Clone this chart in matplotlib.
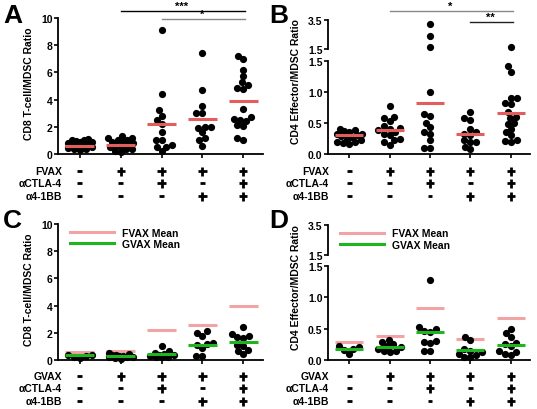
import numpy as np
import matplotlib.pyplot as plt
from matplotlib import transforms

plt.rcParams['font.family'] = ['Liberation Sans', 'DejaVu Sans']
plt.rcParams['font.weight'] = 'bold'

W, H = 537, 410

# treatment rows under each panel
vax_row = ['-', '+', '+', '+', '+']
ctla4_row = ['-', '-', '+', '-', '+']
bb_row = ['-', '-', '-', '+', '+']

# A: CD8 T-cell / MDSC ratio, FVAX
a_vals = [
    [1.1, 1.05, 1.0, 0.95, 0.9, 0.85, 0.8, 0.75, 0.7, 0.6, 0.55, 0.5, 0.45, 0.4, 0.35, 0.3],
    [1.3, 1.2, 1.15, 1.05, 1.0, 0.9, 0.85, 0.8, 0.7, 0.6, 0.55, 0.5, 0.4, 0.35, 0.25, 0.15],
    [9.1, 4.4, 3.2, 2.8, 2.5, 2.2, 1.65, 1.05, 1.05, 0.65, 0.55, 0.5, 0.2],
    [7.4, 4.7, 3.5, 3.0, 3.0, 2.0, 2.0, 1.9, 1.6, 1.15, 1.0, 0.6],
    [7.2, 7.0, 6.2, 5.75, 5.3, 5.1, 4.85, 4.8, 3.3, 2.75, 2.6, 2.5, 2.45, 2.1, 2.05, 1.15, 1.0],
]
a_means = [0.62, 0.68, 2.2, 2.55, 3.9]

# B: CD4 effector / MDSC ratio, FVAX
b_vals = [
    [0.4, 0.39, 0.37, 0.36, 0.33, 0.32, 0.3, 0.29, 0.27, 0.25, 0.22, 0.2, 0.19, 0.17, 0.16],
    [0.77, 0.6, 0.58, 0.53, 0.45, 0.42, 0.4, 0.38, 0.35, 0.33, 0.3, 0.25, 0.22, 0.2, 0.15],
    [3.2, 2.4, 1.62, 1.0, 0.65, 0.62, 0.5, 0.43, 0.35, 0.33, 0.22, 0.1, 0.1],
    [0.67, 0.58, 0.55, 0.4, 0.35, 0.33, 0.3, 0.22, 0.2, 0.2, 0.12, 0.08],
    [1.63, 1.42, 1.33, 0.9, 0.9, 0.82, 0.8, 0.67, 0.6, 0.58, 0.5, 0.48, 0.4, 0.36, 0.3, 0.22, 0.21, 0.2],
]
b_means = [0.3, 0.38, 0.83, 0.32, 0.66]

# C: CD8 T-cell / MDSC ratio, GVAX
c_vals = [
    [0.4, 0.35, 0.3, 0.2, 0.15],
    [0.5, 0.45, 0.4, 0.35, 0.3, 0.3, 0.25, 0.2, 0.2, 0.15, 0.1],
    [1.05, 0.65, 0.5, 0.45, 0.4, 0.35, 0.3, 0.25, 0.2, 0.2],
    [2.1, 2.0, 1.8, 1.25, 1.15, 1.1, 0.9, 0.3, 0.3],
    [2.4, 1.9, 1.8, 1.7, 1.6, 1.1, 1.05, 0.7, 0.65, 0.45],
]
c_means = [0.35, 0.3, 0.45, 1.1, 1.35]
c_fvax_means = [0.6, 0.65, 2.2, 2.55, 3.95]

# D: CD4 effector / MDSC ratio, GVAX
d_vals = [
    [0.22, 0.21, 0.18, 0.16, 0.1],
    [0.32, 0.28, 0.25, 0.22, 0.2, 0.18, 0.15, 0.14, 0.13],
    [1.27, 0.52, 0.5, 0.47, 0.45, 0.3, 0.29, 0.27, 0.15, 0.15],
    [0.37, 0.32, 0.18, 0.15, 0.12, 0.1, 0.08, 0.05, 0.05],
    [0.5, 0.43, 0.37, 0.27, 0.25, 0.23, 0.15, 0.12, 0.1, 0.08],
]
d_means = [0.18, 0.2, 0.44, 0.16, 0.24]
d_fvax_means = [0.29, 0.38, 0.83, 0.33, 0.67]

RED = '#e35d5d'
PINK = '#f2a3a3'
GREEN = '#1fb51f'
XLIM = (-0.53, 4.48)

fig = plt.figure(figsize=(W / 100, H / 100), dpi=100)


def px_axes(left, top, right, bottom):
    return fig.add_axes([left / W, 1 - bottom / H, (right - left) / W, (bottom - top) / H])


def style(ax, ylim, ticks, fmt, bottom=True):
    ax.set_xlim(*XLIM)
    ax.set_ylim(*ylim)
    ax.set_yticks(ticks)
    ax.set_yticklabels([fmt % t for t in ticks])
    for s in ['top', 'right']:
        ax.spines[s].set_visible(False)
    ax.spines['left'].set_linewidth(1.3)
    ax.tick_params(axis='y', length=3, width=1.2, labelsize=7.5, pad=1)
    if bottom:
        ax.spines['bottom'].set_linewidth(1.3)
        ax.set_xticks(range(5))
        ax.set_xticklabels([])
        ax.tick_params(axis='x', length=3, width=1.2)
    else:
        ax.spines['bottom'].set_visible(False)
        ax.set_xticks([])
    ax.patch.set_alpha(0)


def swarm_x(ax, x0, vals, d=6.0, cap=13):
    # simple beeswarm in pixel space, width capped so dots overlap like the original
    vals = np.asarray(vals, dtype=float)
    pts = ax.transData.transform(np.column_stack([np.full(len(vals), x0), vals]))
    order = np.argsort(pts[:, 1])
    cands = sorted(np.arange(-2 * cap, 2 * cap + 1) * 0.5, key=lambda v: (abs(v), v))
    placed = []
    xs = np.zeros(len(vals))
    for i in order:
        y = pts[i, 1]
        best, best_gap = 0.0, -1
        for dx in cands:
            gap = min([np.hypot(dx - px, y - py) for px, py in placed] or [99])
            if gap >= d:
                best = dx
                break
            if gap > best_gap + 0.5:
                best, best_gap = dx, gap
        placed.append((best, y))
        xs[i] = pts[i, 0] + best
    return ax.transData.inverted().transform(np.column_stack([xs, pts[:, 1]]))[:, 0]


def dots(ax, vals, lo, hi):
    for g, v in enumerate(vals):
        v = [x for x in v if lo <= x < hi]
        if not v:
            continue
        xs = swarm_x(ax, g, v)
        ax.scatter(xs, v, s=27, c='black', linewidths=0, zorder=3, clip_on=False)


def means(ax, m, color, z=4):
    for g, y in enumerate(m):
        ax.plot([g - 0.35, g + 0.35], [y, y], color=color, lw=2.2, zorder=z,
                solid_capstyle='butt')


def rows(ax, first, x_lab, ys):
    tr = transforms.blended_transform_factory(ax.transData, fig.transFigure)
    kw = dict(color='black', lw=2.0, transform=tr, clip_on=False, solid_capstyle='butt')
    for name, marks, y in zip([first, 'αCTLA-4', 'α4-1BB'], [vax_row, ctla4_row, bb_row], ys):
        fig.text(x_lab / W, 1 - y / H, name, ha='right', va='center', fontsize=7.5)
        yf = 1 - y / H
        for g, mk in enumerate(marks):
            if mk == '+':
                ax.plot([g - 0.1, g + 0.1], [yf, yf], **kw)
                ax.plot([g, g], [yf - 4.5 / H, yf + 4.5 / H], **kw)
            else:
                ax.plot([g - 0.06, g + 0.06], [yf, yf], **kw)


def sig(ax, x0, x1, y, label, color):
    tr = transforms.blended_transform_factory(ax.transData, fig.transFigure)
    ax.plot([x0, x1 + 0.05], [1 - y / H] * 2, color=color, lw=1, transform=tr, clip_on=False)
    ax.text((x0 + x1) / 2, 1 - (y - 0.5) / H, label, transform=tr, ha='center', va='bottom',
            fontsize=8, color='black')


# ---------- Panel A ----------
axA = px_axes(58, 19, 263, 155)
style(axA, (0, 10), [0, 2, 4, 6, 8, 10], '%d')
dots(axA, a_vals, 0, 99)
means(axA, a_means, RED)
rows(axA, 'FVAX', 62, [172, 184, 197])
sig(axA, 1, 4, 12, '***', 'black')
sig(axA, 2, 4, 20, '*', '#888888')
fig.text(29 / W, 1 - 84 / H, 'CD8 T-cell/MDSC Ratio', rotation=90, ha='center', va='center', fontsize=7.5)
fig.text(3 / W, 1 - 16 / H, 'A', fontsize=19, ha='left', va='center')

# ---------- Panel B ----------
axB = px_axes(328, 62, 530, 155)
style(axB, (0, 1.5), [0, 0.5, 1.0, 1.5], '%.1f')
axB2 = px_axes(328, 21, 530, 50)
style(axB2, (1.5, 3.5), [1.5, 3.5], '%.1f', bottom=False)
dots(axB, b_vals, 0, 1.5)
dots(axB2, b_vals, 1.5, 99)
means(axB, b_means, RED)
rows(axB, 'FVAX', 329, [172, 184, 197])
sig(axB, 1, 4, 12, '*', '#888888')
sig(axB, 3, 4, 23, '**', '#222222')
fig.text(296 / W, 1 - 82 / H, 'CD4 Effector/MDSC Ratio', rotation=90, ha='center', va='center', fontsize=7.5)
fig.text(269 / W, 1 - 16 / H, 'B', fontsize=19, ha='left', va='center')

# ---------- Panel C ----------
axC = px_axes(58, 225, 263, 361)
style(axC, (0, 10), [0, 2, 4, 6, 8, 10], '%d')
dots(axC, c_vals, 0, 99)
means(axC, c_fvax_means, PINK, z=2)
means(axC, c_means, GREEN)
rows(axC, 'GVAX', 62, [377, 389, 402])
hf, = axC.plot([], [], color=PINK, lw=2.2, label='FVAX Mean')
hg, = axC.plot([], [], color=GREEN, lw=2.2, label='GVAX Mean')
axC.legend(handles=[hf, hg], loc='upper left', bbox_to_anchor=(0.03, 1.02), frameon=False,
           fontsize=7.5, handlelength=4.2, handletextpad=0.8, labelspacing=0.15, borderaxespad=0.2)
fig.text(29 / W, 1 - 290 / H, 'CD8 T-cell/MDSC Ratio', rotation=90, ha='center', va='center', fontsize=7.5)
fig.text(3 / W, 1 - 221 / H, 'C', fontsize=19, ha='left', va='center')

# ---------- Panel D ----------
axD = px_axes(328, 267, 530, 361)
style(axD, (0, 1.5), [0, 0.5, 1.0, 1.5], '%.1f')
axD2 = px_axes(328, 226, 530, 256)
style(axD2, (1.5, 3.5), [1.5, 3.5], '%.1f', bottom=False)
dots(axD, d_vals, 0, 1.5)
dots(axD2, d_vals, 1.5, 99)
means(axD, d_fvax_means, PINK, z=2)
means(axD, d_means, GREEN)
rows(axD, 'GVAX', 329, [377, 389, 402])
hf2, = axD2.plot([], [], color=PINK, lw=2.2, label='FVAX Mean')
hg2, = axD2.plot([], [], color=GREEN, lw=2.2, label='GVAX Mean')
axD2.legend(handles=[hf2, hg2], loc='upper left', bbox_to_anchor=(0.03, 1.1), frameon=False,
            fontsize=7.5, handlelength=4.2, handletextpad=0.8, labelspacing=0.15, borderaxespad=0.2)
fig.text(296 / W, 1 - 288 / H, 'CD4 Effector/MDSC Ratio', rotation=90, ha='center', va='center', fontsize=7.5)
fig.text(269 / W, 1 - 221 / H, 'D', fontsize=19, ha='left', va='center')

fig.savefig('out.png', dpi=100)
